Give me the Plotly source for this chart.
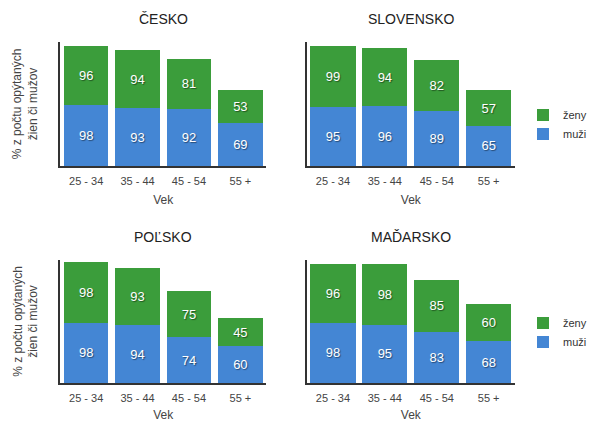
import plotly.graph_objects as go

# Age groups on the x axis
categories = ["25 - 34", "35 - 44", "45 - 54", "55 +"]

# Share of surveyed men / women (%) per country
cesko_muzi = [98, 93, 92, 69]
cesko_zeny = [96, 94, 81, 53]
slovensko_muzi = [95, 96, 89, 65]
slovensko_zeny = [99, 94, 82, 57]
polsko_muzi = [98, 94, 74, 60]
polsko_zeny = [98, 93, 75, 45]
madarsko_muzi = [98, 95, 83, 68]
madarsko_zeny = [96, 98, 85, 60]

countries = ["ČESKO", "SLOVENSKO", "POĽSKO", "MAĎARSKO"]
series = [
    (cesko_muzi, cesko_zeny),
    (slovensko_muzi, slovensko_zeny),
    (polsko_muzi, polsko_zeny),
    (madarsko_muzi, madarsko_zeny),
]

W, H = 592, 422
FONT = "Liberation Sans, Arial, sans-serif"
GREEN = "#3b9d3b"
BLUE = "#4486d4"

# panel boxes in pixels: (left, right, top, bottom)
panels = [
    (62, 273, 42, 166),
    (315, 528, 42, 166),
    (62, 273, 260, 383),
    (315, 528, 260, 383),
]
legend_for = {1: "legend", 3: "legend2"}

fig = go.Figure()
annotations = []

for i, (country, (muzi, zeny)) in enumerate(zip(countries, series)):
    n = "" if i == 0 else str(i + 1)
    xa, ya = "x" + n, "y" + n
    leg = legend_for.get(i)
    show = leg is not None
    common = dict(
        x=categories,
        xaxis=xa,
        yaxis=ya,
        textposition="inside",
        insidetextanchor="middle",
        textangle=0,
        textfont=dict(family=FONT, size=13, color="white",
                      shadow="1px 1px 1px rgba(0,0,0,0.45)"),
        marker_line_width=0,
        hoverinfo="x+y+name",
    )
    fig.add_trace(go.Bar(y=muzi, text=muzi, name="muži", marker_color=BLUE,
                         showlegend=show, legend=leg or "legend", **common))
    fig.add_trace(go.Bar(y=zeny, text=zeny, name="ženy", marker_color=GREEN,
                         showlegend=show, legend=leg or "legend", **common))

    left, right, top, bottom = panels[i]
    xdom = [left / W, right / W]
    ydom = [1 - bottom / H, 1 - top / H]
    fig.layout["xaxis" + n] = dict(
        domain=xdom, anchor=ya,
        showline=True, linecolor="#333", linewidth=1.5,
        ticks="outside", ticklen=4, tickcolor="rgba(0,0,0,0)",
        tickfont=dict(family=FONT, size=11, color="#444"),
        title=dict(text="Vek", font=dict(family=FONT, size=12, color="#444"),
                   standoff=10),
        showgrid=False, fixedrange=True,
    )
    fig.layout["yaxis" + n] = dict(
        domain=ydom, anchor=xa, range=[0, 200],
        showline=True, linecolor="#333", linewidth=1.5,
        showticklabels=False, ticks="", showgrid=False, zeroline=False,
        fixedrange=True,
    )

    # panel title
    annotations.append(dict(
        text=country, x=(left + right) / 2 / W, y=1 - (top - 23) / H,
        xref="paper", yref="paper", showarrow=False,
        xanchor="center", yanchor="middle",
        font=dict(family=FONT, size=14, color="#222"),
    ))
    # y-axis title on the left column
    if i in (0, 2):
        annotations.append(dict(
            text="% z počtu opýtaných<br>žien či mužov",
            x=26 / W, y=1 - ((top + bottom) / 2) / H,
            xref="paper", yref="paper", showarrow=False,
            xanchor="center", yanchor="middle", textangle=-90,
            font=dict(family=FONT, size=12, color="#444"),
        ))

legend_style = dict(
    xanchor="left", yanchor="middle", traceorder="reversed",
    font=dict(family=FONT, size=11, color="#333"),
    bgcolor="rgba(0,0,0,0)", itemclick=False, itemdoubleclick=False,
)

fig.update_layout(
    width=W, height=H,
    margin=dict(l=0, r=0, t=0, b=0),
    barmode="stack", bargap=0.13,
    paper_bgcolor="white", plot_bgcolor="white",
    font=dict(family=FONT),
    legend=dict(x=537 / W, y=1 - 124.5 / H, **legend_style),
    legend2=dict(x=537 / W, y=1 - 332.5 / H, **legend_style),
    annotations=annotations,
)

fig.write_html("out.html", config={"displayModeBar": False})
